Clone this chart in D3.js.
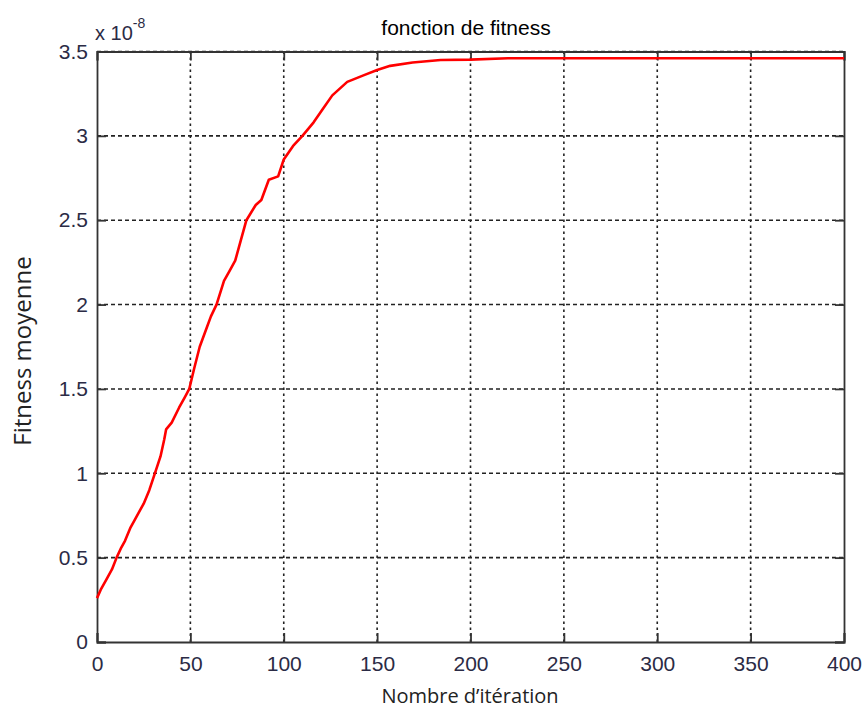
<!DOCTYPE html>
<html>
<head>
<meta charset="utf-8">
<script src="https://cdn.jsdelivr.net/npm/d3@7"></script>
<style>
  body { margin: 0; background: #fff; }
  svg { display: block; }
  .tick text { font-family: "Liberation Sans", Arial, sans-serif; fill: #2b2b45; }
</style>
</head>
<body>
<svg id="chart" width="866" height="711"></svg>
<script>
// iteration / mean fitness (x 1e-8)
var iterations = [0, 2, 5, 8, 10.5, 13, 15, 18, 20, 23, 25, 28, 31, 34, 36, 37, 40, 44, 47, 49.4, 52, 55, 59, 61, 64, 68, 71, 74, 77, 80, 85, 88, 92, 97, 100, 105, 110, 116, 121, 126, 134, 143, 150, 157, 169, 184, 200, 220, 260, 300, 350, 400];
var fitness = [0.26, 0.31, 0.37, 0.43, 0.5, 0.56, 0.6, 0.68, 0.72, 0.78, 0.82, 0.9, 1.0, 1.1, 1.2, 1.26, 1.3, 1.39, 1.45, 1.5, 1.62, 1.75, 1.87, 1.93, 2.0, 2.14, 2.2, 2.26, 2.38, 2.5, 2.59, 2.62, 2.74, 2.76, 2.86, 2.94, 3.0, 3.08, 3.16, 3.24, 3.32, 3.36, 3.39, 3.415, 3.435, 3.45, 3.452, 3.46, 3.46, 3.46, 3.46, 3.46];
var xTicks = [0, 50, 100, 150, 200, 250, 300, 350, 400];
var yTicks = [0, 0.5, 1, 1.5, 2, 2.5, 3, 3.5];

var margin = {top: 51.5, right: 22, bottom: 69, left: 97};
var svg = d3.select("#chart");
var width = 866 - margin.left - margin.right,
    height = 711 - margin.top - margin.bottom;

var x = d3.scaleLinear().domain([0, 400]).range([0, width]);
var y = d3.scaleLinear().domain([0, 3.5]).range([height, 0]);

var g = svg.append("g")
    .attr("transform", "translate(" + margin.left + "," + margin.top + ")");

// grid
g.append("g").selectAll("line")
    .data(xTicks.slice(1, -1))
    .enter().append("line")
    .attr("x1", function (d) { return x(d); })
    .attr("x2", function (d) { return x(d); })
    .attr("y1", 0).attr("y2", height)
    .attr("stroke", "#222").attr("stroke-width", 1.6)
    .attr("stroke-dasharray", "2.5,3.5");

g.append("g").selectAll("line")
    .data(yTicks.slice(1))
    .enter().append("line")
    .attr("x1", 0).attr("x2", width)
    .attr("y1", function (d) { return y(d); })
    .attr("y2", function (d) { return y(d); })
    .attr("stroke", "#222").attr("stroke-width", 1.6)
    .attr("stroke-dasharray", "4,3");

// axes (ticks inside, on all four sides)
var tl = 9;
var xAxis = g.append("g")
    .attr("transform", "translate(0," + height + ")")
    .call(d3.axisBottom(x).tickValues(xTicks).tickSize(-tl).tickPadding(14));
var yAxis = g.append("g")
    .call(d3.axisLeft(y).tickValues(yTicks).tickSize(-tl).tickPadding(9)
        .tickFormat(function (d) { return d; }));
g.append("g")
    .call(d3.axisTop(x).tickValues(xTicks).tickSize(-tl).tickFormat(""));
g.append("g")
    .attr("transform", "translate(" + width + ",0)")
    .call(d3.axisRight(y).tickValues(yTicks).tickSize(-tl).tickFormat(""));

g.selectAll(".domain").attr("stroke", "#333").attr("stroke-width", 1.8);
g.selectAll(".tick line").attr("stroke", "#333").attr("stroke-width", 1.8);
g.selectAll(".tick text").style("font-size", "21px");

// curve
var line = d3.line()
    .x(function (d, i) { return x(iterations[i]); })
    .y(function (d) { return y(d); });

g.append("path")
    .datum(fitness)
    .attr("fill", "none")
    .attr("stroke", "#ff0000")
    .attr("stroke-width", 2.6)
    .attr("stroke-linejoin", "round")
    .attr("d", line);

// texts
svg.append("text")
    .attr("x", 466).attr("y", 35)
    .attr("text-anchor", "middle")
    .style("font-family", "'Liberation Sans', Arial, sans-serif")
    .style("font-size", "21px")
    .text("fonction de fitness");

var ex = svg.append("text")
    .attr("x", 95).attr("y", 40)
    .style("font-family", "'Liberation Sans', Arial, sans-serif")
    .style("font-size", "20px")
    .style("fill", "#2b2b45");
ex.append("tspan").text("x 10");
ex.append("tspan").attr("dy", -12).style("font-size", "14px").text("-8");

svg.append("text")
    .attr("x", 470).attr("y", 703)
    .attr("text-anchor", "middle")
    .style("font-family", "'Open Sans', sans-serif")
    .style("font-size", "20px")
    .style("fill", "#222")
    .text("Nombre d\u2019itération");

svg.append("text")
    .attr("transform", "translate(31,351) rotate(-90)")
    .attr("text-anchor", "middle")
    .style("font-family", "'Open Sans', sans-serif")
    .style("font-size", "24px")
    .style("fill", "#222")
    .text("Fitness moyenne");
</script>
</body>
</html>
